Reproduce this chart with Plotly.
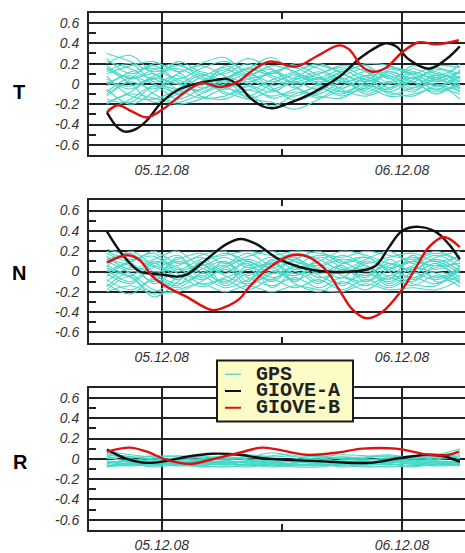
import plotly.graph_objects as go
import pandas as pd

# ---------------- data (hours relative to 05.12.08 00:00) ----------------
GPS_HOURS = [-5.5, -3.1, -0.8, 1.6, 3.9, 6.3, 8.6, 11.0, 13.3, 15.7, 18.0, 20.4, 22.7, 25.1, 27.4, 29.8]

GPS_T = [
    [0.30, 0.22, 0.12, 0.18, 0.10, 0.05, 0.14, 0.08, 0.02, 0.10, 0.16, 0.08, 0.12, 0.06, 0.14, 0.10],
    [0.25, 0.10, 0.18, 0.05, 0.15, 0.22, 0.12, 0.02, 0.10, 0.04, 0.12, 0.18, 0.05, 0.15, 0.08, 0.18],
    [0.18, 0.05, 0.10, -0.05, 0.02, 0.12, 0.25, 0.15, 0.05, 0.12, 0.02, 0.08, 0.16, 0.10, 0.02, 0.12],
    [0.12, 0.20, 0.02, 0.08, -0.04, 0.06, 0.15, 0.26, 0.10, 0.02, 0.10, -0.02, 0.10, 0.02, 0.16, 0.05],
    [0.05, -0.05, 0.08, 0.15, 0.05, -0.05, 0.05, 0.10, 0.18, 0.08, -0.04, 0.06, 0.00, 0.12, 0.04, 0.20],
    [-0.02, 0.12, 0.15, 0.02, -0.08, 0.02, -0.06, 0.04, 0.12, 0.20, 0.10, 0.02, 0.08, -0.04, 0.10, 0.02],
    [-0.10, 0.02, -0.05, 0.10, 0.18, 0.08, 0.00, -0.08, 0.04, 0.10, 0.18, 0.12, -0.04, 0.06, -0.02, 0.08],
    [-0.18, -0.08, 0.05, -0.10, 0.02, 0.14, 0.05, -0.06, -0.12, 0.00, 0.08, 0.15, 0.06, -0.06, 0.04, -0.05],
    [-0.25, -0.15, -0.02, -0.15, -0.05, 0.04, 0.16, 0.06, -0.04, -0.10, 0.02, -0.06, 0.12, 0.02, -0.08, 0.00],
    [0.20, 0.28, 0.10, 0.00, 0.10, -0.02, -0.12, 0.00, 0.08, -0.02, -0.10, 0.00, -0.08, 0.04, 0.12, -0.02],
    [0.08, -0.12, -0.15, -0.05, 0.08, -0.10, -0.02, 0.12, -0.02, -0.14, -0.05, 0.04, -0.06, 0.10, -0.02, 0.06],
    [0.00, 0.08, -0.10, -0.18, -0.10, 0.00, 0.10, -0.04, -0.16, -0.08, 0.06, -0.08, 0.02, -0.08, 0.06, -0.08],
    [-0.05, -0.20, -0.08, 0.04, -0.12, -0.15, -0.06, -0.12, -0.05, 0.06, -0.06, -0.12, -0.04, 0.02, -0.10, 0.04],
    [0.15, 0.00, -0.18, -0.10, 0.00, -0.08, -0.15, -0.18, -0.25, -0.15, -0.02, 0.08, -0.10, -0.04, 0.00, -0.15],
    [-0.12, 0.05, 0.20, 0.12, -0.02, 0.18, 0.08, 0.18, 0.12, 0.00, -0.08, -0.04, 0.14, 0.08, -0.06, 0.14],
    [0.22, 0.15, 0.05, 0.22, 0.12, 0.10, 0.20, 0.10, 0.20, 0.15, 0.05, 0.12, 0.02, 0.18, 0.10, 0.06],
    [0.10, 0.18, 0.22, 0.12, 0.20, 0.26, 0.08, -0.02, 0.06, 0.18, 0.12, 0.20, 0.18, 0.10, 0.18, 0.16],
    [-0.20, -0.10, -0.14, -0.20, -0.15, -0.05, -0.10, -0.22, -0.10, -0.04, -0.12, -0.04, -0.12, -0.10, -0.04, -0.10],
    [0.16, 0.06, 0.14, 0.20, 0.08, 0.16, 0.02, 0.12, 0.16, 0.06, 0.14, 0.04, 0.16, 0.12, 0.06, 0.12],
    [-0.08, 0.06, 0.00, -0.08, 0.06, -0.04, 0.08, 0.14, 0.00, 0.06, -0.08, 0.02, 0.08, -0.02, 0.08, -0.04],
    [0.02, -0.02, 0.06, 0.00, -0.06, 0.04, -0.14, -0.06, 0.02, -0.06, 0.04, -0.10, 0.00, 0.06, -0.06, 0.00],
    [-0.15, -0.18, -0.02, -0.06, -0.14, -0.12, -0.02, -0.14, -0.08, -0.12, -0.14, -0.02, -0.08, -0.12, -0.02, -0.07],
]

GPS_N = [
    [0.22, 0.15, 0.05, 0.12, 0.18, 0.08, 0.15, 0.20, 0.10, 0.06, 0.16, 0.08, 0.14, 0.18, 0.10, 0.15],
    [0.15, 0.02, 0.12, 0.20, 0.06, 0.14, 0.04, 0.10, 0.18, 0.12, 0.02, 0.12, 0.20, 0.08, 0.16, 0.05],
    [0.08, 0.18, 0.00, 0.06, 0.14, 0.00, 0.10, -0.02, 0.06, 0.16, 0.10, 0.00, 0.06, 0.14, 0.02, 0.12],
    [0.02, -0.10, 0.08, -0.05, 0.02, 0.10, -0.04, 0.08, -0.02, 0.04, 0.12, 0.06, -0.04, 0.06, 0.10, -0.02],
    [-0.05, 0.08, -0.12, 0.02, -0.08, 0.04, 0.12, 0.02, -0.08, 0.00, -0.06, 0.10, 0.02, -0.06, 0.04, 0.08],
    [-0.12, -0.22, -0.05, 0.10, 0.00, -0.10, 0.02, -0.10, 0.04, -0.10, 0.02, -0.04, 0.08, 0.00, -0.08, 0.02],
    [-0.18, -0.05, -0.25, -0.10, 0.06, -0.04, -0.12, -0.02, 0.10, -0.04, -0.12, -0.02, -0.10, 0.04, -0.02, -0.10],
    [0.10, -0.02, -0.18, -0.20, -0.10, 0.02, -0.06, -0.14, -0.06, -0.16, -0.06, -0.14, -0.04, -0.10, 0.06, -0.06],
    [0.00, 0.10, 0.15, -0.02, -0.15, -0.08, -0.18, -0.08, -0.16, -0.08, -0.18, -0.08, -0.16, -0.06, -0.12, 0.02],
    [-0.08, -0.18, -0.08, -0.16, -0.04, -0.16, -0.08, 0.04, -0.12, -0.20, -0.10, -0.18, -0.06, -0.14, -0.04, -0.15],
    [0.18, 0.10, 0.20, 0.08, 0.16, 0.20, 0.06, 0.14, 0.02, 0.10, 0.20, 0.16, 0.08, 0.02, 0.14, 0.20],
    [0.05, 0.20, 0.08, 0.16, -0.02, 0.06, 0.18, 0.06, 0.14, -0.02, 0.06, -0.10, 0.02, 0.10, 0.18, 0.10],
    [-0.02, -0.12, 0.04, -0.08, 0.08, -0.12, 0.06, -0.06, 0.02, 0.08, -0.14, 0.04, -0.08, 0.16, -0.10, -0.04],
    [0.12, 0.05, -0.10, 0.14, -0.06, 0.10, -0.10, 0.12, -0.10, 0.14, 0.04, -0.06, 0.12, -0.02, 0.08, -0.12],
    [-0.15, 0.00, -0.04, -0.14, 0.10, -0.02, 0.08, -0.16, 0.00, -0.12, 0.08, 0.14, 0.00, -0.12, -0.14, 0.06],
    [0.20, 0.12, 0.18, 0.02, 0.12, 0.16, 0.20, 0.16, 0.20, 0.18, 0.14, 0.20, 0.16, 0.12, 0.20, 0.10],
    [-0.20, -0.14, -0.22, -0.18, -0.12, -0.20, -0.14, -0.20, -0.14, -0.18, -0.20, -0.12, -0.18, -0.16, -0.18, -0.08],
    [0.04, -0.04, 0.10, 0.04, -0.12, -0.06, 0.02, 0.08, 0.12, 0.02, -0.02, 0.06, -0.12, 0.04, -0.06, 0.04],
    [0.12, 0.16, 0.06, 0.00, 0.08, 0.18, 0.10, 0.04, 0.12, 0.20, 0.08, 0.14, 0.04, 0.10, 0.06, 0.16],
    [-0.10, 0.04, -0.02, -0.12, -0.02, 0.06, -0.14, 0.00, -0.04, 0.06, -0.04, -0.10, 0.04, -0.08, 0.00, -0.08],
    [0.06, -0.06, -0.20, -0.06, 0.04, -0.14, -0.02, -0.08, 0.06, -0.06, 0.00, 0.02, -0.14, 0.00, 0.12, 0.00],
]

GPS_R = [
    [0.08, 0.04, 0.02, 0.03, 0.01, 0.03, 0.04, 0.02, 0.03, 0.02, 0.04, 0.03, 0.02, 0.03, 0.04, 0.10],
    [0.05, 0.00, -0.02, 0.00, 0.02, -0.01, 0.01, 0.06, 0.02, -0.01, 0.01, 0.02, 0.04, 0.01, 0.03, 0.06],
    [0.02, -0.03, -0.04, -0.02, -0.03, -0.02, -0.04, -0.01, -0.03, -0.04, -0.02, -0.03, -0.01, -0.02, 0.00, 0.03],
    [-0.02, -0.05, -0.06, -0.05, -0.04, -0.06, -0.05, -0.06, -0.05, -0.06, -0.05, -0.04, -0.06, -0.04, -0.05, -0.02],
    [-0.06, -0.07, -0.05, -0.07, -0.06, -0.05, -0.07, -0.05, -0.07, -0.06, -0.07, -0.06, -0.05, -0.07, -0.06, -0.05],
    [-0.08, -0.06, -0.07, -0.04, -0.07, -0.08, -0.06, -0.08, -0.06, -0.05, -0.08, -0.07, -0.08, -0.06, -0.07, -0.06],
    [0.00, 0.02, 0.00, -0.01, 0.00, 0.02, 0.00, -0.02, 0.00, 0.03, 0.00, -0.01, 0.01, 0.02, 0.05, 0.00],
    [-0.04, -0.02, -0.03, -0.06, -0.02, -0.04, -0.02, -0.04, -0.02, -0.03, -0.04, -0.05, -0.03, -0.05, -0.02, -0.04],
    [0.04, 0.01, 0.03, 0.02, -0.01, 0.00, 0.02, 0.00, -0.01, 0.00, 0.02, 0.00, -0.02, 0.00, 0.02, 0.04],
    [-0.07, -0.04, -0.06, -0.03, -0.05, -0.03, -0.03, -0.05, -0.04, -0.02, -0.03, -0.06, -0.04, -0.03, -0.04, -0.06],
    [0.06, 0.02, -0.01, 0.01, 0.03, 0.00, 0.02, 0.03, 0.05, 0.02, 0.00, 0.01, 0.03, 0.00, 0.01, 0.08],
    [-0.03, -0.06, -0.04, -0.05, -0.07, -0.04, -0.06, -0.03, -0.06, -0.07, -0.05, -0.02, -0.05, -0.07, -0.03, -0.03],
    [-0.05, -0.01, -0.03, -0.04, -0.01, -0.05, -0.02, -0.03, -0.01, -0.05, -0.01, -0.02, -0.04, -0.01, -0.03, -0.05],
    [0.03, -0.04, -0.05, -0.06, -0.05, -0.02, -0.04, -0.07, -0.04, -0.03, -0.06, -0.04, -0.02, -0.05, -0.06, 0.01],
    [-0.07, -0.05, -0.08, -0.06, -0.08, -0.07, -0.08, -0.06, -0.08, -0.08, -0.06, -0.08, -0.07, -0.08, -0.05, -0.07],
    [0.01, -0.02, 0.01, -0.03, -0.02, 0.01, -0.01, -0.04, -0.02, 0.01, -0.03, -0.01, 0.00, -0.03, -0.01, 0.02],
]

GA_T_HOURS = [-5.48, -4.5, -3.68, -2.5, -1.49, 0.0, 1.79, 3.78, 5.5, 6.5, 7.77, 8.76, 10.06, 11.05, 12.45, 15.04, 17.73, 20.02, 22.41, 23.40, 24.70, 26.69, 28.38, 29.78]
GA_T = [-0.28, -0.42, -0.47, -0.44, -0.36, -0.18, -0.05, 0.01, 0.04, 0.05, -0.02, -0.13, -0.22, -0.24, -0.20, -0.09, 0.07, 0.27, 0.40, 0.37, 0.24, 0.15, 0.24, 0.37]

GB_T_HOURS = [-5.48, -4.38, -2.99, -1.49, 0.1, 2.49, 4.08, 5.78, 7.77, 8.76, 10.76, 13.44, 15.44, 17.73, 18.72, 20.02, 21.01, 22.41, 24.0, 25.69, 27.39, 29.68]
GB_T = [-0.28, -0.21, -0.27, -0.33, -0.25, -0.07, 0.01, -0.03, 0.03, 0.11, 0.22, 0.17, 0.27, 0.38, 0.34, 0.17, 0.12, 0.16, 0.31, 0.41, 0.39, 0.43]

GA_N_HOURS = [-5.48, -3.88, -2.19, 0.0, 1.49, 2.49, 4.48, 6.47, 7.9, 9.46, 11.75, 15.44, 20.02, 21.41, 22.71, 24.0, 25.69, 27.39, 28.68, 29.78]
GA_N = [0.395, 0.16, 0.0, -0.03, -0.05, -0.03, 0.12, 0.27, 0.32, 0.27, 0.12, 0.01, 0.01, 0.06, 0.24, 0.40, 0.44, 0.39, 0.27, 0.12]

GB_N_HOURS = [-5.48, -3.39, -2.19, -0.90, 0.5, 2.49, 5.08, 6.77, 7.77, 8.76, 10.76, 13.05, 14.74, 16.43, 17.73, 19.02, 20.42, 22.01, 24.0, 25.40, 26.69, 28.18, 29.78]
GB_N = [0.09, 0.16, 0.11, -0.05, -0.15, -0.25, -0.38, -0.33, -0.27, -0.15, 0.04, 0.16, 0.14, 0.01, -0.18, -0.37, -0.46, -0.40, -0.18, 0.04, 0.24, 0.34, 0.24]

GA_R_HOURS = [-5.48, -3.49, -1.49, 0.5, 2.49, 5.08, 7.77, 10.06, 15.04, 20.71, 24.0, 26.69, 28.38, 29.78]
GA_R = [0.09, 0.0, -0.04, -0.02, 0.02, 0.05, 0.04, 0.005, -0.02, -0.04, 0.01, 0.04, 0.02, -0.03]

GB_R_HOURS = [-5.48, -3.19, -1.49, 0.5, 2.79, 5.08, 7.77, 10.06, 14.44, 17.43, 20.02, 23.40, 26.69, 28.68, 29.68]
GB_R = [0.07, 0.11, 0.07, -0.01, -0.05, -0.005, 0.06, 0.11, 0.04, 0.06, 0.10, 0.10, 0.04, 0.04, 0.07]

PANEL_LABELS = ["T", "N", "R"]
LEGEND_NAMES = ["GPS", "GIOVE-A", "GIOVE-B"]
DATE_TICK_HOURS = [0, 24]
DATE_TICK_TEXT = ["05.12.08", "06.12.08"]
Y_TICKS = [-0.6, -0.4, -0.2, 0, 0.2, 0.4, 0.6]
Y_TICK_TEXT = ["-0.6", "-0.4", "-0.2", "0", "0.2", "0.4", "0.6"]
Y_MINOR = [-0.5, -0.3, -0.1, 0.1, 0.3, 0.5]

# ---------------- styling ----------------
W, H = 465, 553
BASE = pd.Timestamp("2008-12-05")
CYAN = "#46d8c8"
BLACK = "#111111"
RED = "#e01010"
AX = "#222222"


def ts(hours):
    return BASE + pd.to_timedelta(pd.Series(hours, dtype=float), unit="h")


def py(pix):
    return 1 - pix / H


panels = [
    (GPS_T, GA_T_HOURS, GA_T, GB_T_HOURS, GB_T, (13, 157)),
    (GPS_N, GA_N_HOURS, GA_N, GB_N_HOURS, GB_N, (203, 347)),
    (GPS_R, GA_R_HOURS, GA_R, GB_R_HOURS, GB_R, (392.7, 536.7)),
]

fig = go.Figure()
tick_font = dict(family="Liberation Sans, Arial, sans-serif", size=14, color="#333333", style="italic")
layout = dict(width=W, height=H, margin=dict(l=0, r=0, t=0, b=0),
              paper_bgcolor="white", plot_bgcolor="white", showlegend=False)

gps_x = ts(GPS_HOURS)
for i, (gps, ah, av, bh, bv, (top, bot)) in enumerate(panels):
    xa = "x" if i == 0 else f"x{i+1}"
    ya = "y" if i == 0 else f"y{i+1}"
    for series in gps:
        fig.add_trace(go.Scatter(x=gps_x, y=series, mode="lines", xaxis=xa, yaxis=ya,
                                 line=dict(color=CYAN, width=1.1, shape="spline"),
                                 hoverinfo="skip", name="GPS"))
    fig.add_trace(go.Scatter(x=ts(ah), y=av, mode="lines", xaxis=xa, yaxis=ya,
                             line=dict(color=BLACK, width=2.4, shape="spline"), name="GIOVE-A"))
    fig.add_trace(go.Scatter(x=ts(bh), y=bv, mode="lines", xaxis=xa, yaxis=ya,
                             line=dict(color=RED, width=2.4, shape="spline"), name="GIOVE-B"))

    xkey = "xaxis" if i == 0 else f"xaxis{i+1}"
    ykey = "yaxis" if i == 0 else f"yaxis{i+1}"
    layout[xkey] = dict(
        type="date", anchor=ya, domain=[89 / W, 1],
        range=[BASE + pd.Timedelta(hours=-7.27), BASE + pd.Timedelta(hours=30.3)],
        tickmode="array", tickvals=list(ts(DATE_TICK_HOURS)), ticktext=DATE_TICK_TEXT,
        showgrid=True, gridcolor=AX, gridwidth=1.5, zeroline=False,
        showline=True, linecolor=AX, linewidth=2, mirror="ticks", ticks="",
        minor=dict(tickmode="array", tickvals=list(ts([12])), ticks="inside", ticklen=6,
                   tickcolor=AX, tickwidth=1.5, showgrid=False),
        tickfont=tick_font, ticklabelstandoff=1,
    )
    layout[ykey] = dict(
        anchor=xa, domain=[py(bot), py(top)], range=[-0.7, 0.7],
        tickmode="array", tickvals=Y_TICKS, ticktext=Y_TICK_TEXT,
        showgrid=True, gridcolor=AX, gridwidth=1.5, zeroline=False,
        showline=True, linecolor=AX, linewidth=2, mirror=False, ticks="",
        minor=dict(tickmode="array", tickvals=Y_MINOR, ticks="inside", ticklen=7,
                   tickcolor=AX, tickwidth=1.5, showgrid=False),
        tickfont=tick_font, ticklabelstandoff=5,
    )

annotations = []
for lab, (lx, ly) in zip(PANEL_LABELS, [(19, 93), (19, 276), (20, 468)]):
    annotations.append(dict(text=f"<b>{lab}</b>", x=lx / W, y=py(ly), xref="paper", yref="paper",
                            showarrow=False, xanchor="center", yanchor="middle",
                            font=dict(family="Liberation Sans, Arial, sans-serif", size=20, color="black")))

# legend box (manual for exact spacing)
shapes = [dict(type="rect", xref="paper", yref="paper", x0=217 / W, x1=353 / W, y0=py(427), y1=py(365),
               fillcolor="#fdfbc6", line=dict(color="#1a1a1a", width=2), layer="above")]
for name, col, wdt, ry in zip(LEGEND_NAMES, [CYAN, BLACK, RED], [1.2, 2, 2], [379, 396, 413]):
    shapes.append(dict(type="line", xref="paper", yref="paper", x0=225 / W, x1=241 / W, y0=py(ry), y1=py(ry),
                       line=dict(color=col, width=wdt), layer="above"))
    annotations.append(dict(text=f"<b>{name}</b>", x=254 / W, y=py(ry), xref="paper", yref="paper",
                            showarrow=False, xanchor="left", yanchor="middle",
                            font=dict(family="Liberation Mono, Courier New, monospace", size=20, color="#222222")))

layout["shapes"] = shapes
layout["annotations"] = annotations
fig.update_layout(**layout)
fig.write_html("out.html")
